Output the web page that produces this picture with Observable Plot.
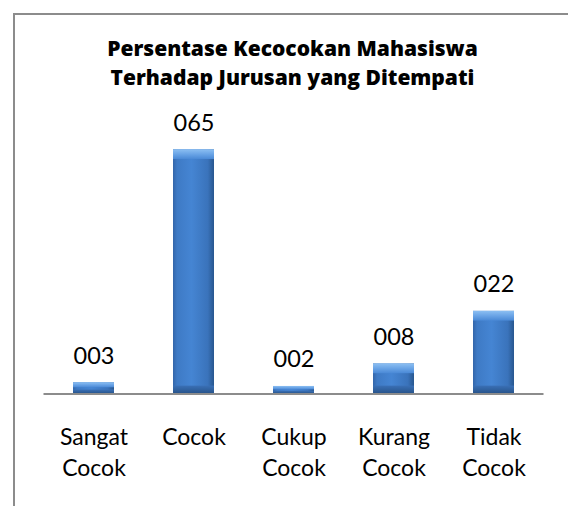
<!DOCTYPE html>
<html>
<head>
<meta charset="utf-8">
<script src="https://cdn.jsdelivr.net/npm/d3@7"></script>
<script src="https://cdn.jsdelivr.net/npm/@observablehq/plot@0.6"></script>
<style>
  html, body { margin: 0; padding: 0; background: #fff; }
  #wrap { position: relative; width: 568px; height: 506px; overflow: hidden; background: #fff; }
  #frame { position: absolute; left: 12.7px; top: 12.5px; right: -20px; bottom: -20px;
           border-left: 2.6px solid #8c8c8c; border-top: 2.6px solid #8c8c8c; pointer-events: none; }
  #title { position: relative; box-sizing: border-box; width: 568px; height: 100px; padding-top: 34px; padding-left: 17px;
           font-family: "Open Sans", Lato, sans-serif; font-weight: 800; font-size: 21px; line-height: 28.7px;
           text-align: center; color: #000; letter-spacing: 0px; }
  #chart svg { display: block; }
</style>
</head>
<body>
<div id="wrap">
  <div id="title"></div>
  <div id="chart"></div>
  <div id="frame"></div>
</div>
<script>
const titleLines = ["Persentase Kecocokan Mahasiswa", "Terhadap Jurusan yang Ditempati"];
const categories = ["Sangat Cocok", "Cocok", "Cukup Cocok", "Kurang Cocok", "Tidak Cocok"];
const values = [3, 65, 2, 8, 22];
const valueLabels = ["003", "065", "002", "008", "022"];
const yDomain = [0, 70];

document.getElementById("title").innerHTML = titleLines.map(t => `<div>${t}</div>`).join("");

const data = categories.map((c, i) => ({category: c, value: values[i], label: valueLabels[i]}));

const chart = Plot.plot({
  width: 568,
  height: 406,
  marginTop: 30.5,
  marginBottom: 112.5,
  marginLeft: 43.5,
  marginRight: 24.5,
  style: {fontFamily: "Lato, 'Open Sans', sans-serif", color: "#000", background: "transparent"},
  x: {domain: categories, paddingInner: 0.59, paddingOuter: 0.295, axis: null},
  y: {domain: yDomain, axis: null},
  marks: [
    Plot.barY(data, {x: "category", y: "value", fill: "url(#bodyGrad)"}),
    Plot.barY(data, {x: "category", y1: d => Math.max(d.value * 0.55, d.value - 2.6), y2: "value", fill: "url(#topGrad)"}),
    Plot.barY(data, {x: "category", y1: 0, y2: d => Math.min(d.value * 0.35, 2.1), fill: "url(#botGrad)"}),
    Plot.ruleY([0], {stroke: "#8c8c8c", strokeWidth: 2}),
    Plot.text(data, {x: "category", y: "value", text: "label", dy: -19, lineAnchor: "bottom", fontSize: 23.5, fill: "#000"}),
    Plot.text(data, {x: "category", text: d => d.category.replace(" ", "\n"), frameAnchor: "bottom",
                     lineAnchor: "top", dy: 29.3, fontSize: 23, lineHeight: 1.35, fill: "#000"})
  ]
});

const ns = "http://www.w3.org/2000/svg";
const defs = document.createElementNS(ns, "defs");
defs.innerHTML = `
  <linearGradient id="bodyGrad" x1="0" y1="0" x2="1" y2="0">
    <stop offset="0" stop-color="#3366aa"/>
    <stop offset="0.1" stop-color="#3e7ac5"/>
    <stop offset="0.45" stop-color="#4585d3"/>
    <stop offset="0.85" stop-color="#3a73bb"/>
    <stop offset="1" stop-color="#28578f"/>
  </linearGradient>
  <linearGradient id="topGrad" x1="0" y1="0" x2="0" y2="1">
    <stop offset="0" stop-color="#8cbff2"/>
    <stop offset="0.5" stop-color="#6aa4e6"/>
    <stop offset="1" stop-color="#4a89d6"/>
  </linearGradient>
  <linearGradient id="botGrad" x1="0" y1="0" x2="0" y2="1">
    <stop offset="0" stop-color="#3a70b6"/>
    <stop offset="1" stop-color="#27538a"/>
  </linearGradient>`;
chart.insertBefore(defs, chart.firstChild);
document.getElementById("chart").appendChild(chart);
</script>
</body>
</html>
